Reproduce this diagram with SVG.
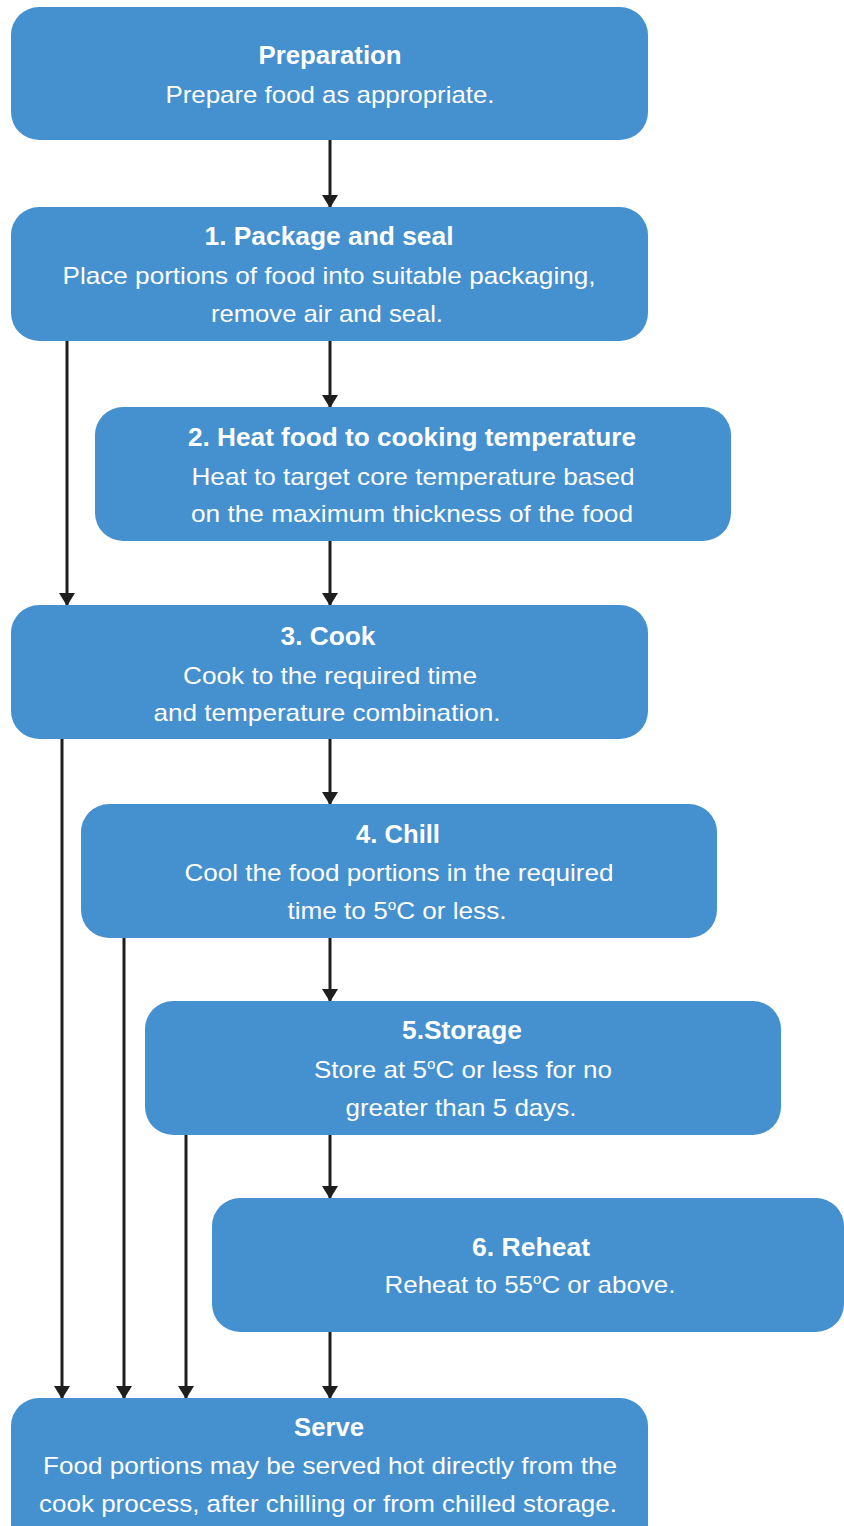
<svg xmlns="http://www.w3.org/2000/svg" width="844" height="1526" viewBox="0 0 844 1526">
<defs>
<style>
.box{fill:#4590CE}
text{font-family:"Liberation Sans",Arial,sans-serif;fill:#ffffff;text-anchor:middle}
.t{font-weight:bold;font-size:25px}
.b{font-size:24px}
.c{stroke:#1e1e1e;stroke-width:3;fill:none;marker-end:url(#ah)}
.sup{font-size:14px}
</style>
<marker id="ah" markerWidth="13" markerHeight="18" refX="12" refY="9" orient="auto" markerUnits="userSpaceOnUse">
<path d="M0,1 L13,9 L0,17 Z" fill="#1e1e1e"/>
</marker>
</defs>
<rect width="844" height="1526" fill="#ffffff"/>
<g id="connectors">
<line class="c" x1="330" y1="140" x2="330" y2="207"/>
<line class="c" x1="330" y1="341" x2="330" y2="407"/>
<line class="c" x1="330" y1="541" x2="330" y2="605"/>
<line class="c" x1="330" y1="739" x2="330" y2="804"/>
<line class="c" x1="330" y1="938" x2="330" y2="1001"/>
<line class="c" x1="330" y1="1135" x2="330" y2="1198"/>
<line class="c" x1="330" y1="1332" x2="330" y2="1398"/>
<line class="c" x1="67" y1="341" x2="67" y2="605"/>
<line class="c" x1="62" y1="739" x2="62" y2="1398"/>
<line class="c" x1="124" y1="938" x2="124" y2="1398"/>
<line class="c" x1="186" y1="1135" x2="186" y2="1398"/>
</g>
<g id="preparation">
<rect class="box" x="11" y="7" width="637" height="133" rx="28"/>
<text class="t" x="330" y="64" textLength="143" lengthAdjust="spacingAndGlyphs">Preparation</text>
<text class="b" x="330" y="103" textLength="329" lengthAdjust="spacingAndGlyphs">Prepare food as appropriate.</text>
</g>
<g id="package">
<rect class="box" x="11" y="207" width="637" height="134" rx="28"/>
<text class="t" x="329" y="245" textLength="249" lengthAdjust="spacingAndGlyphs">1. Package and seal</text>
<text class="b" x="329" y="284" textLength="533" lengthAdjust="spacingAndGlyphs">Place portions of food into suitable packaging,</text>
<text class="b" x="327" y="322" textLength="232" lengthAdjust="spacingAndGlyphs">remove air and seal.</text>
</g>
<g id="heat">
<rect class="box" x="95" y="407" width="636" height="134" rx="28"/>
<text class="t" x="412" y="446" textLength="448" lengthAdjust="spacingAndGlyphs">2. Heat food to cooking temperature</text>
<text class="b" x="413" y="485" textLength="443" lengthAdjust="spacingAndGlyphs">Heat to target core temperature based</text>
<text class="b" x="412" y="522" textLength="442" lengthAdjust="spacingAndGlyphs">on the maximum thickness of the food</text>
</g>
<g id="cook">
<rect class="box" x="11" y="605" width="637" height="134" rx="28"/>
<text class="t" x="328" y="645" textLength="95" lengthAdjust="spacingAndGlyphs">3. Cook</text>
<text class="b" x="330" y="684" textLength="294" lengthAdjust="spacingAndGlyphs">Cook to the required time</text>
<text class="b" x="327" y="721" textLength="347" lengthAdjust="spacingAndGlyphs">and temperature combination.</text>
</g>
<g id="chill">
<rect class="box" x="81" y="804" width="636" height="134" rx="28"/>
<text class="t" x="398" y="843" textLength="84" lengthAdjust="spacingAndGlyphs">4. Chill</text>
<text class="b" x="399" y="881" textLength="429" lengthAdjust="spacingAndGlyphs">Cool the food portions in the required</text>
<text class="b" x="397" y="919" textLength="219" lengthAdjust="spacingAndGlyphs">time to 5<tspan class="sup" dy="-9">o</tspan><tspan dy="9">C or less.</tspan></text>
</g>
<g id="storage">
<rect class="box" x="145" y="1001" width="636" height="134" rx="28"/>
<text class="t" x="462" y="1039" textLength="120" lengthAdjust="spacingAndGlyphs">5.Storage</text>
<text class="b" x="463" y="1078" textLength="298" lengthAdjust="spacingAndGlyphs">Store at 5<tspan class="sup" dy="-9">o</tspan><tspan dy="9">C or less for no</tspan></text>
<text class="b" x="461" y="1116" textLength="231" lengthAdjust="spacingAndGlyphs">greater than 5 days.</text>
</g>
<g id="reheat">
<rect class="box" x="212" y="1198" width="632" height="134" rx="28"/>
<text class="t" x="531" y="1256" textLength="118" lengthAdjust="spacingAndGlyphs">6. Reheat</text>
<text class="b" x="530" y="1293" textLength="291" lengthAdjust="spacingAndGlyphs">Reheat to 55<tspan class="sup" dy="-9">o</tspan><tspan dy="9">C or above.</tspan></text>
</g>
<g id="serve">
<rect class="box" x="11" y="1398" width="637" height="160" rx="28"/>
<text class="t" x="329" y="1436" textLength="70" lengthAdjust="spacingAndGlyphs">Serve</text>
<text class="b" x="330" y="1474" textLength="574" lengthAdjust="spacingAndGlyphs">Food portions may be served hot directly from the</text>
<text class="b" x="328" y="1512" textLength="578" lengthAdjust="spacingAndGlyphs">cook process, after chilling or from chilled storage.</text>
</g>
</svg>
